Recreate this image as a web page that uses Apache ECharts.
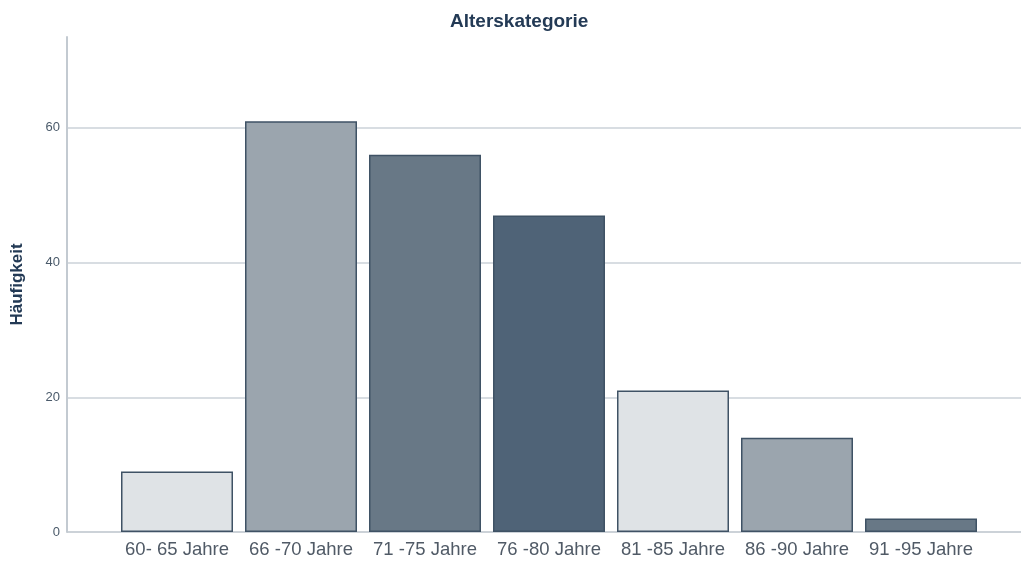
<!DOCTYPE html>
<html><head><meta charset="utf-8">
<script src="https://cdn.jsdelivr.net/npm/echarts@6/dist/echarts.min.js"></script>
<style>html,body{margin:0;padding:0;background:#fff}#c{width:1021px;height:561px}</style>
</head><body><div id="c"></div>
<script>
const categories = ['60- 65 Jahre','66 -70 Jahre','71 -75 Jahre','76 -80 Jahre','81 -85 Jahre','86 -90 Jahre','91 -95 Jahre'];
const counts = [9, 61, 56, 47, 21, 14, 2];
const barColors = ['#dfe3e6','#9ba5ae','#687886','#4f6377','#dfe3e6','#9ba5ae','#687886'];
const yTicks = [0, 20, 40, 60];
const yMax = 73.5;

const chart = echarts.init(document.getElementById('c'), null, {renderer:'canvas'});
chart.setOption({
  animation:false,
  title:{text:'Alterskategorie', left:445, top:7,
    textStyle:{fontFamily:'Liberation Sans, Arial, sans-serif', fontSize:19, fontWeight:'bold', color:'#233a55'}},
  grid:[
    {left:67, right:0, top:37, bottom:29},
    {left:115, right:38, top:37, bottom:29}
  ],
  xAxis:[
    {gridIndex:0, type:'value', min:0, max:1, show:false},
    {gridIndex:1, type:'category', data:categories,
      axisLine:{show:false}, axisTick:{show:false},
      axisLabel:{interval:0, hideOverlap:false, fontFamily:'Liberation Sans, Arial, sans-serif', fontSize:18.5, color:'#505a66', margin:8}}
  ],
  yAxis:[
    {gridIndex:0, type:'value', min:0, max:yMax, interval:20,
      name:'Häufigkeit', nameLocation:'middle', nameGap:41, nameRotate:90,
      nameTextStyle:{fontFamily:'Liberation Sans, Arial, sans-serif', fontSize:17, fontWeight:'bold', color:'#233a55'},
      axisLine:{show:true, lineStyle:{color:'#c3cad1', width:2}},
      axisTick:{show:false},
      axisLabel:{fontFamily:'Liberation Sans, Arial, sans-serif', fontSize:13, color:'#4a5a6a', margin:7,
        formatter:function(v){return yTicks.indexOf(v)>=0 ? String(v) : '';}},
      splitLine:{show:true, lineStyle:{width:2, color:['#ccd2d8','#d8dde2','#d8dde2','#d8dde2','rgba(0,0,0,0)']}}
    },
    {gridIndex:1, type:'value', min:0, max:yMax, show:false, splitLine:{show:false}}
  ],
  series:[{
    type:'bar', xAxisIndex:1, yAxisIndex:1, barWidth:112,
    data: counts.map((v,i)=>({value:v, itemStyle:{color:barColors[i]}})),
    itemStyle:{borderColor:'#3f5265', borderWidth:1.5}
  }]
});
</script></body></html>
